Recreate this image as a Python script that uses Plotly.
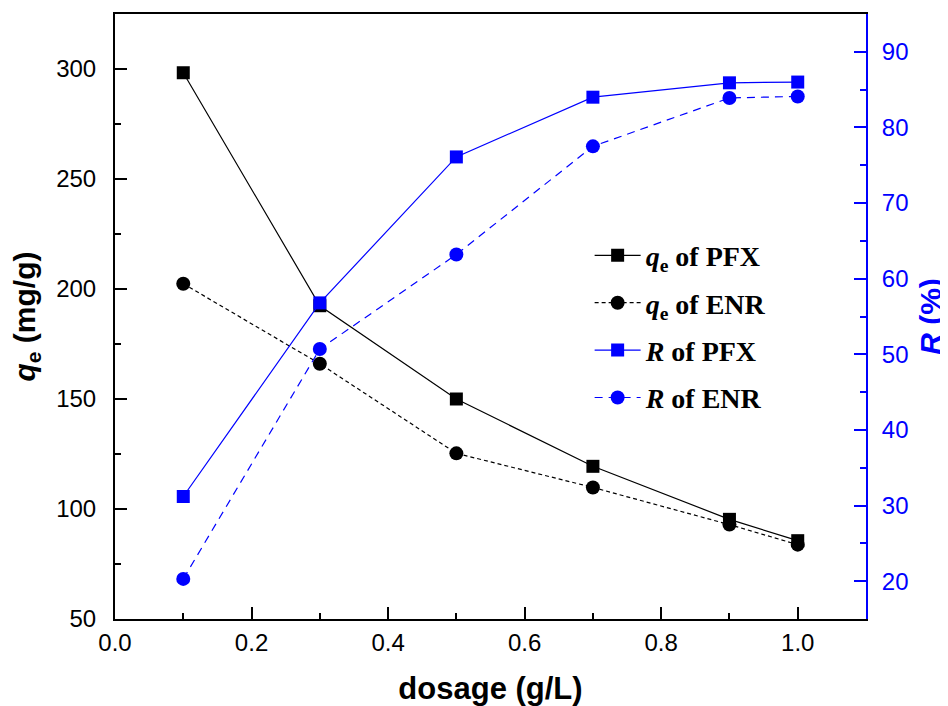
import plotly.graph_objects as go

dosage = [0.1, 0.3, 0.5, 0.7, 0.9, 1.0]
qe_pfx = [298.3, 192.4, 150.0, 119.4, 95.3, 85.6]
qe_enr = [202.4, 166.0, 125.3, 109.8, 92.9, 83.8]
r_pfx = [31.2, 56.8, 76.1, 84.0, 85.9, 86.0]
r_enr = [20.3, 50.7, 63.2, 77.5, 83.9, 84.1]

names = [
    "<b><i>q</i><sub>e</sub> of PFX</b>",
    "<b><i>q</i><sub>e</sub> of ENR</b>",
    "<b><i>R</i> of PFX</b>",
    "<b><i>R</i> of ENR</b>",
]

BLUE = "#0000FF"
fig = go.Figure()
fig.add_trace(go.Scatter(x=dosage, y=qe_pfx, name=names[0], mode="lines+markers", legendgroup="g1",
                         line=dict(color="black", width=1.2),
                         marker=dict(symbol="square", size=13, color="black")))
fig.add_trace(go.Scatter(x=dosage, y=qe_enr, name=names[1], mode="lines+markers", legendgroup="g2",
                         line=dict(color="black", width=1.2, dash="4px,3px"),
                         marker=dict(symbol="circle", size=14, color="black")))
fig.add_trace(go.Scatter(x=dosage, y=r_pfx, name=names[2], mode="lines+markers", yaxis="y2", legendgroup="g3",
                         line=dict(color=BLUE, width=1.2),
                         marker=dict(symbol="square", size=13, color=BLUE)))
fig.add_trace(go.Scatter(x=dosage, y=r_enr, name=names[3], mode="lines+markers", yaxis="y2", legendgroup="g4",
                         line=dict(color=BLUE, width=1.2, dash="8px,6px"),
                         marker=dict(symbol="circle", size=14, color=BLUE)))

sans = "Liberation Sans, Arial, sans-serif"
fig.update_layout(
    width=940, height=698,
    margin=dict(l=107, r=82, t=6, b=87, autoexpand=False),
    paper_bgcolor="white", plot_bgcolor="white",
    font=dict(family=sans, size=24, color="black"),
    xaxis=dict(range=[0, 1.1], dtick=0.2, tick0=0, tickformat=".1f", automargin=False,
               showgrid=False, zeroline=False,
               showline=True, linecolor="black", linewidth=2, mirror=True,
               ticks="inside", ticklen=12, tickwidth=1.5, tickcolor="black",
               minor=dict(ticks="inside", ticklen=6, dtick=0.1, tickwidth=1.5, tickcolor="black"),
               tickfont=dict(size=24, family=sans), ticklabelstandoff=1,
               title=dict(text="<b>dosage (g/L)</b>", font=dict(size=31, family=sans), standoff=25)),
    yaxis=dict(range=[50, 325], dtick=50, tick0=50, automargin=False,
               showgrid=False, zeroline=False,
               showline=True, linecolor="black", linewidth=2,
               ticks="inside", ticklen=12, tickwidth=1.5, tickcolor="black",
               minor=dict(ticks="inside", ticklen=6, dtick=25, tickwidth=1.5, tickcolor="black"),
               tickfont=dict(size=24, family=sans), ticklabelstandoff=12,
               title=dict(text="<b><i>q</i><sub>e</sub> (mg/g)</b>", font=dict(size=30, family=sans), standoff=14)),
    yaxis2=dict(range=[15, 95], dtick=10, tick0=10, overlaying="y", side="right", automargin=False,
                showgrid=False, zeroline=False,
                showline=True, linecolor=BLUE, linewidth=2,
                ticks="inside", ticklen=12, tickwidth=1.5, tickcolor=BLUE,
                minor=dict(ticks="inside", ticklen=6, dtick=5, tickwidth=1.5, tickcolor=BLUE),
                tickfont=dict(size=24, family=sans, color=BLUE), ticklabelstandoff=9,
                title=dict(text="<b><i>R</i> (%)</b>", font=dict(size=30, family=sans, color=BLUE), standoff=12)),
    legend=dict(x=0.632, y=0.642, xanchor="left", yanchor="top",
                bgcolor="rgba(0,0,0,0)", borderwidth=0,
                font=dict(family="Liberation Serif, Times New Roman, serif", size=28, color="black"),
                itemwidth=46, tracegroupgap=8),
    showlegend=True,
)

fig.write_html("out.html")
